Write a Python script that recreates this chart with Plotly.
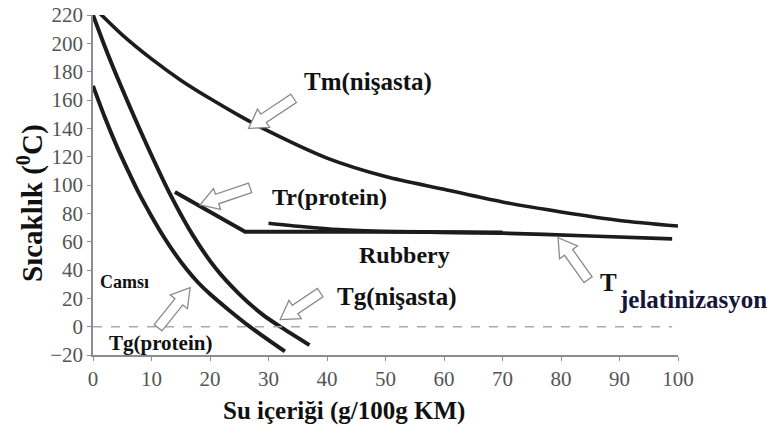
import math
import plotly.graph_objects as go

# ---- data ----
tm_x = [1.2, 5, 10, 15, 20, 25, 30, 40, 50, 60, 70, 80, 90, 100]
tm_y = [221, 206, 189, 174, 161, 149, 138, 119, 106, 97, 88, 81, 75, 71]

tgn_x = [0, 2, 4, 6, 9, 13, 17, 21, 25, 29, 32, 37]
tgn_y = [220, 198, 177.5, 158, 130, 95, 65, 41, 23, 8.5, 0, -13]

tgp_x = [0, 2, 4, 6, 8, 10, 12, 14, 16, 18, 20, 23, 26.8, 32.8]
tgp_y = [170, 148, 128, 110, 93, 78, 64, 51.5, 40.5, 31, 23, 12.5, 0, -17.5]

tr_x = [14, 26, 50, 70]
tr_y = [95, 67, 67, 66.5]

tjel_x = [30, 36, 42, 50, 70, 85, 99]
tjel_y = [73, 70.5, 68.5, 67.2, 66, 64, 62]

zero_x = [0, 99]
zero_y = [0, 0]

x_ticks = [0, 10, 20, 30, 40, 50, 60, 70, 80, 90, 100]
y_ticks = [-20, 0, 20, 40, 60, 80, 100, 120, 140, 160, 180, 200, 220]

# labels: text, x, y, size
labels = [
    ("Tm(nişasta)", 47, 172.8, 25),
    ("Tr(protein)", 40.5, 91.7, 24),
    ("Rubbery", 53.3, 50.8, 24),
    ("Tg(nişasta)", 51.8, 21, 25),
    ("Camsı", 5.3, 31.7, 18),
    ("Tg(protein)", 11.5, -11.3, 21),
]

# arrows: tip (data), tail offset in screen pixels (dx right, dy down)
arrows = [
    (26.6, 140, 45, -30),
    (18.3, 86, 50, -17),
    (16.6, 27.5, -32, 40),
    (32.0, 5, 40, -27),
    (79.5, 62.8, 30, 42),
]

LINE = "#1c1c1c"
SERIF = "Liberation Serif"

fig = go.Figure()
for xs, ys, w, shp in [(tm_x, tm_y, 3.6, "spline"), (tgn_x, tgn_y, 4, "spline"),
                       (tgp_x, tgp_y, 4, "spline"), (tr_x, tr_y, 4, "linear"),
                       (tjel_x, tjel_y, 3.6, "spline")]:
    fig.add_trace(go.Scatter(x=xs, y=ys, mode="lines",
                             line=dict(color=LINE, width=w, shape=shp, smoothing=0.8),
                             cliponaxis=False, showlegend=False, hoverinfo="skip"))
fig.add_trace(go.Scatter(x=zero_x, y=zero_y, mode="lines",
                         line=dict(color="#aaaaaa", width=1.5, dash="dash"),
                         showlegend=False, hoverinfo="skip"))


def arrow_path(tdx, tdy, shaft=5, head=11, head_len=18):
    tx, ty = tdx, -tdy
    L = math.hypot(tx, ty)
    ux, uy = -tx / L, -ty / L
    nx, ny = -uy, ux
    bx, by = -ux * head_len, -uy * head_len
    pts = [(0, 0), (bx + nx * head, by + ny * head), (bx + nx * shaft, by + ny * shaft),
           (tx + nx * shaft, ty + ny * shaft), (tx - nx * shaft, ty - ny * shaft),
           (bx - nx * shaft, by - ny * shaft), (bx - nx * head, by - ny * head)]
    return "M " + " L ".join(f"{p[0]:.2f},{p[1]:.2f}" for p in pts) + " Z"


for ax_, ay_, dx, dy in arrows:
    fig.add_shape(type="path", xref="x", yref="y", xsizemode="pixel", ysizemode="pixel",
                  xanchor=ax_, yanchor=ay_, path=arrow_path(dx, dy),
                  fillcolor="white", line=dict(color="#8a8a8a", width=1.3), layer="above")

for t, x, y, s in labels:
    fig.add_annotation(x=x, y=y, text=f"<b>{t}</b>", showarrow=False, xanchor="center",
                       font=dict(family=SERIF, size=s, color="#111111"))
fig.add_annotation(x=86.3, y=31, text="<b>T</b>", showarrow=False, xanchor="left",
                   font=dict(family=SERIF, size=25, color="#111111"))
fig.add_annotation(x=89.5, y=19.5, text="<b>jelatinizasyon</b>", showarrow=False, xanchor="left",
                   font=dict(family=SERIF, size=25, color="#161638"))

fig.add_annotation(xref="paper", yref="paper", x=(344 - 93) / 585, y=-0.165,
                   text="<b>Su içeriği (g/100g KM)</b>", showarrow=False, yanchor="middle",
                   font=dict(family=SERIF, size=25, color="#111111"))
fig.add_annotation(xref="paper", yref="paper", x=(30 - 93) / 585, y=(355 - 203) / 340,
                   text="<b>Sıcaklık (<sup>0</sup>C)</b>", showarrow=False, textangle=-90,
                   xanchor="center", yanchor="middle",
                   font=dict(family=SERIF, size=29, color="#111111"))

axis_common = dict(showgrid=False, zeroline=False, showline=True, linecolor="#8c8c8c", linewidth=1.5,
                   ticks="outside", ticklen=4, tickcolor="#8c8c8c", automargin=False,
                   tickfont=dict(family=SERIF, size=21, color="#555555"))
fig.update_xaxes(range=[0, 100], tickvals=x_ticks, **axis_common)
fig.update_yaxes(range=[-20, 220], tickvals=y_ticks, **axis_common)
fig.update_layout(width=770, height=437, margin=dict(l=93, r=92, t=15, b=82),
                  plot_bgcolor="white", paper_bgcolor="white")
# remove the browser's default 8px body margin so the figure fills the window
fig.write_html("out.html", config={"displayModeBar": False},
               post_script="document.body.style.margin='0';")
